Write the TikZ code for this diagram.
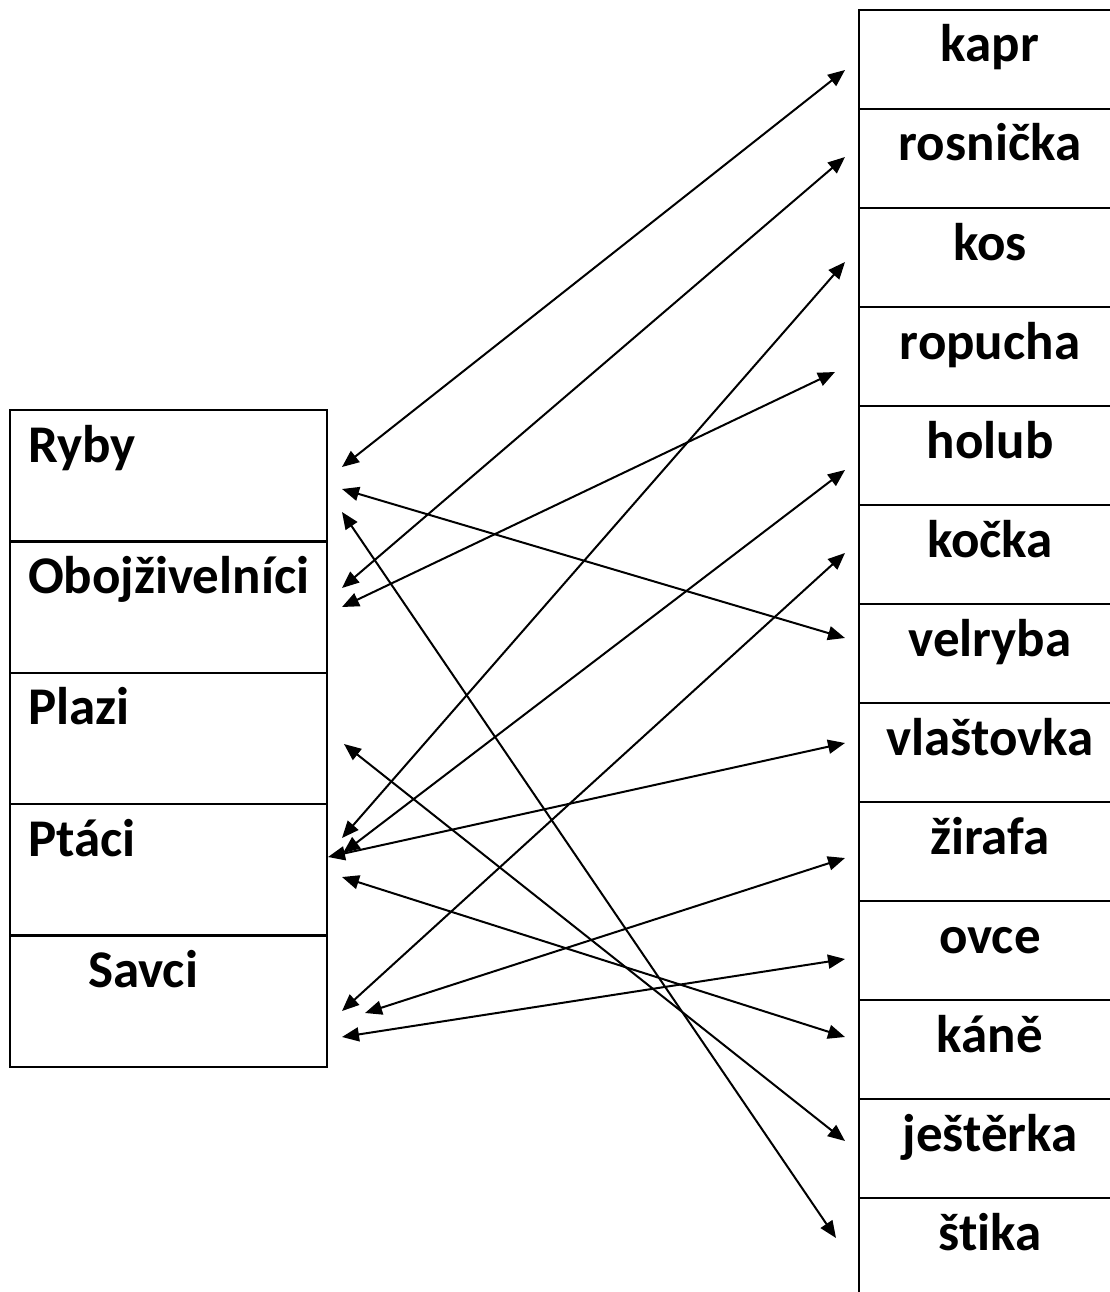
\documentclass[tikz,border=0pt]{standalone}
\usepackage{fontspec}
\setmainfont{Carlito}[Ligatures=NoCommon]
\usetikzlibrary{arrows.meta,positioning}

% animal name, centred in the visible part of its box
\newcommand{\animal}[1]{\makebox[262pt]{#1}\hspace*{38pt}}

\tikzset{
  groupbox/.style={draw, line width=2.5pt, outer sep=0pt, inner ysep=0pt,
    inner xsep=18pt, text width=281pt, align=left,
    text height=52pt, text depth=79.4pt,
    font=\fontsize{53}{60}\selectfont\bfseries},
  animalbox/.style={draw, line width=2.5pt, outer sep=0pt, inner sep=0pt,
    minimum width=300pt, text height=52pt, text depth=47pt,
    font=\fontsize{53}{60}\selectfont\bfseries},
  pair/.style={{Triangle[length=17pt,width=14pt]}-{Triangle[length=17pt,width=14pt]},
    line width=2pt},
}

\begin{document}
\begin{tikzpicture}[x=1pt,y=-1pt]
  \useasboundingbox (0,0) rectangle (1109,1292);

  % Draw groups on the left
  \node[groupbox] (ryby) at (168.5,475.7) {Ryby};
  \node[groupbox, below=0pt of ryby] (obojz) {Obojživelníci};
  \node[groupbox, below=0pt of obojz] (plazi) {Plazi};
  \node[groupbox, below=0pt of plazi] (ptaci) {Ptáci};
  \node[groupbox, below=0pt of ptaci] (savci) {\hspace*{60pt}Savci};

  % Draw animals on the right
  \node[animalbox] (kapr) at (1009,59.5) {\animal{kapr}};
  \node[animalbox, below=0pt of kapr] (rosnicka) {\animal{rosnička}};
  \node[animalbox, below=0pt of rosnicka] (kos) {\animal{kos}};
  \node[animalbox, below=0pt of kos] (ropucha) {\animal{ropucha}};
  \node[animalbox, below=0pt of ropucha] (holub) {\animal{holub}};
  \node[animalbox, below=0pt of holub] (kocka) {\animal{kočka}};
  \node[animalbox, below=0pt of kocka] (velryba) {\animal{velryba}};
  \node[animalbox, below=0pt of velryba] (vlastovka) {\animal{vlaštovka}};
  \node[animalbox, below=0pt of vlastovka] (zirafa) {\animal{žirafa}};
  \node[animalbox, below=0pt of zirafa] (ovce) {\animal{ovce}};
  \node[animalbox, below=0pt of ovce] (kane) {\animal{káně}};
  \node[animalbox, below=0pt of kane] (jesterka) {\animal{ještěrka}};
  \node[animalbox, below=0pt of jesterka] (stika) {\animal{štika}};

  % Arrow ends near the groups
  \coordinate (kaprL) at (342,467);
  \coordinate (velrybaL) at (342,489);
  \coordinate (stikaL) at (342,512);
  \coordinate (rosnickaL) at (342,588);
  \coordinate (ropuchaL) at (342,607);
  \coordinate (jesterkaL) at (344,744);
  \coordinate (kosL) at (342,838);
  \coordinate (holubL) at (343,853);
  \coordinate (vlastovkaL) at (328,857);
  \coordinate (kaneL) at (342,877);
  \coordinate (kockaL) at (342,1011);
  \coordinate (zirafaL) at (365,1013);
  \coordinate (ovceL) at (342,1037);

  % Arrow ends near the animals
  \coordinate (kaprR) at (845,70);
  \coordinate (rosnickaR) at (845,157);
  \coordinate (kosR) at (845,262);
  \coordinate (ropuchaR) at (835,372);
  \coordinate (holubR) at (845,470);
  \coordinate (kockaR) at (845,553);
  \coordinate (velrybaR) at (845,638);
  \coordinate (vlastovkaR) at (845,743);
  \coordinate (zirafaR) at (845,858);
  \coordinate (ovceR) at (845,959);
  \coordinate (kaneR) at (845,1037);
  \coordinate (jesterkaR) at (845,1141);
  \coordinate (stikaR) at (836,1238);

  % Draw the pairs
  \draw[pair] (kaprL) -- (kaprR);           % Ryby
  \draw[pair] (velrybaL) -- (velrybaR);
  \draw[pair] (stikaL) -- (stikaR);
  \draw[pair] (rosnickaL) -- (rosnickaR);   % Obojzivelnici
  \draw[pair] (ropuchaL) -- (ropuchaR);
  \draw[pair] (jesterkaL) -- (jesterkaR);   % Plazi
  \draw[pair] (kosL) -- (kosR);             % Ptaci
  \draw[pair] (holubL) -- (holubR);
  \draw[pair] (vlastovkaL) -- (vlastovkaR);
  \draw[pair] (kaneL) -- (kaneR);
  \draw[pair] (kockaL) -- (kockaR);         % Savci
  \draw[pair] (zirafaL) -- (zirafaR);
  \draw[pair] (ovceL) -- (ovceR);

\end{tikzpicture}
\end{document}
